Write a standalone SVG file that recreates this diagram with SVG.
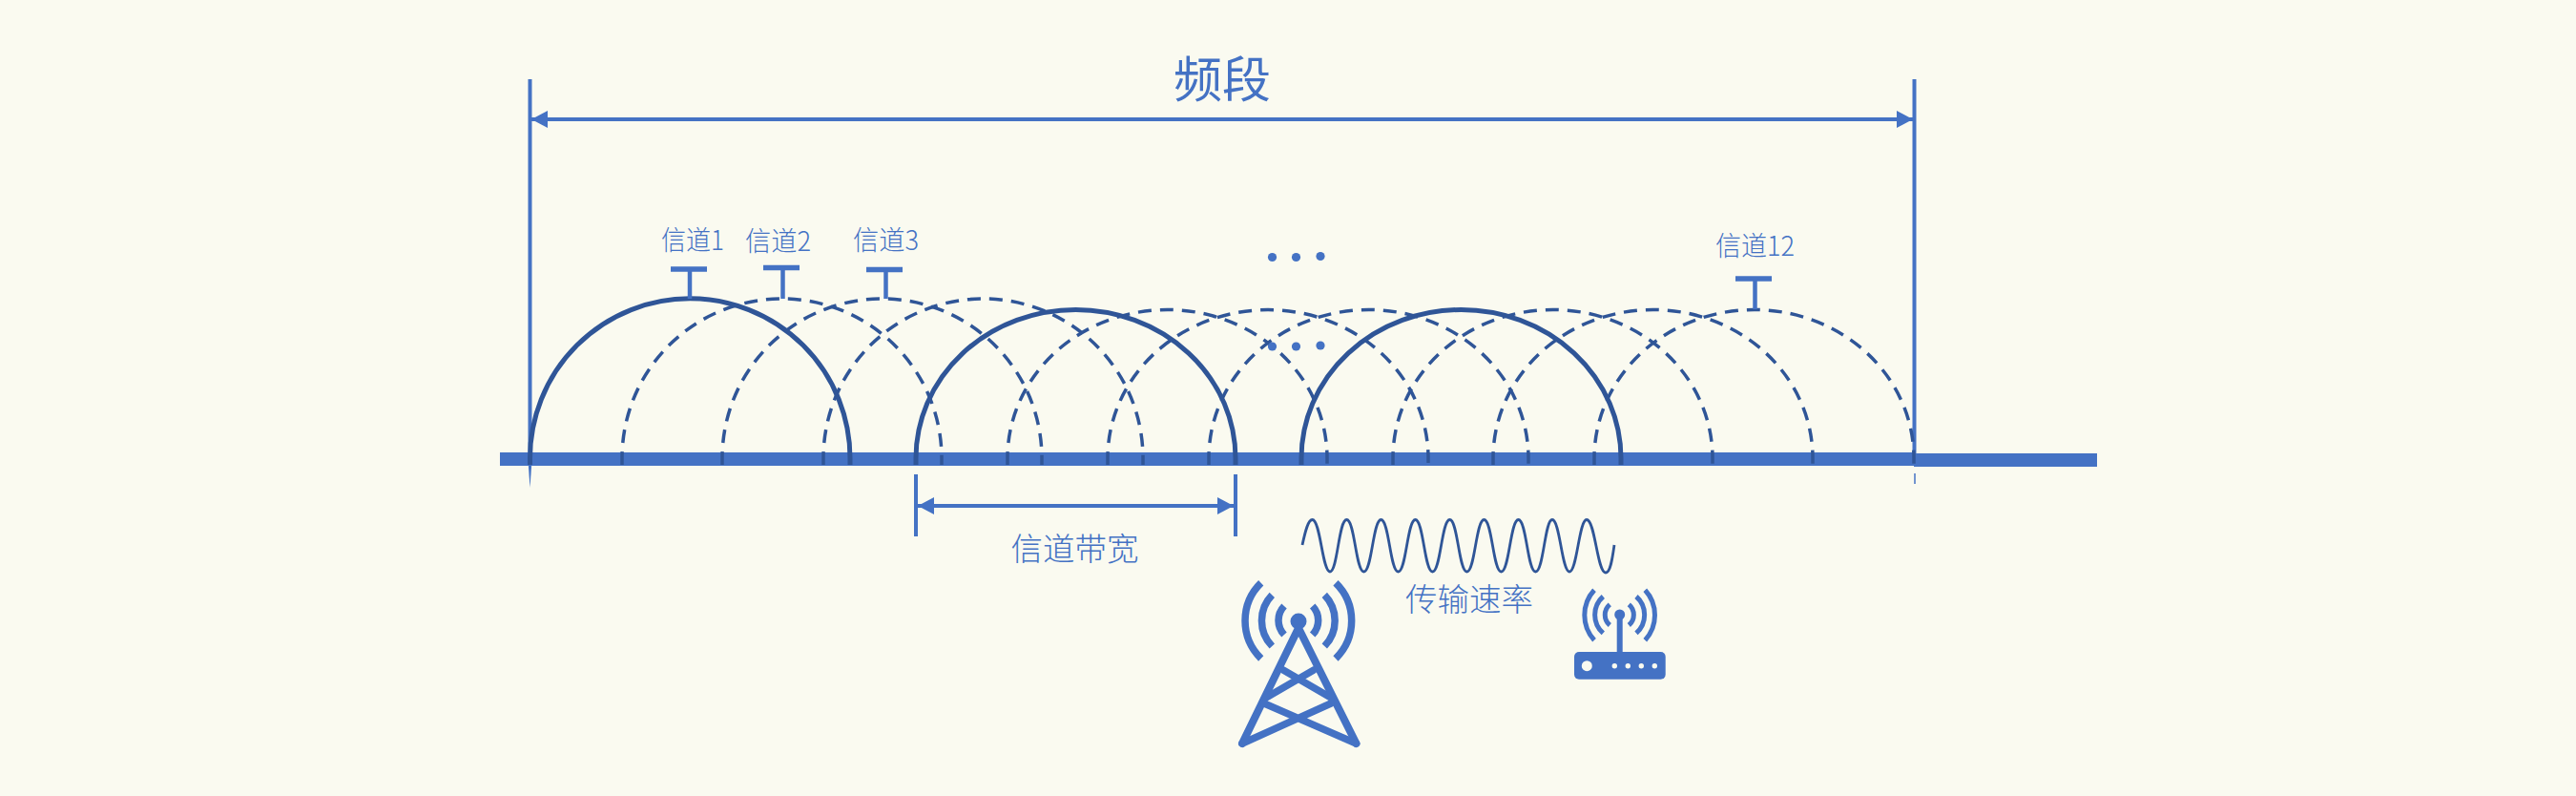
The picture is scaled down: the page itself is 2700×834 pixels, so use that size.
<svg xmlns="http://www.w3.org/2000/svg" width="2700" height="834" viewBox="0 0 2700 834">
<style>
text{font-family:"Noto Sans CJK SC","Noto Sans",sans-serif;font-weight:300;fill:#4472C4}
.v{stroke:#4472C4;stroke-width:4;fill:none}
.t{stroke:#4472C4;fill:none}
.s{stroke:#2F5597;stroke-width:5;fill:none}
.d{stroke:#2F5597;stroke-width:3.500;fill:none;stroke-dasharray:14 9}
.f{fill:#4472C4}
.i{stroke:#4472C4;fill:none}
</style>
<defs>
<marker id="a" markerUnits="userSpaceOnUse" markerWidth="17" markerHeight="18" refX="17" refY="9" orient="auto-start-reverse"><path d="M0 0L17 9L0 18Z" fill="#4472C4"/></marker>
</defs>
<rect width="2700" height="834" fill="#FAFAF0"/>
<g id="band-axis">
<rect x="524" y="474" width="1482" height="14" class="f"/>
<rect x="2006" y="475" width="192" height="14" class="f"/>
</g>
<g id="connectors">
<path class="v" d="M555.500 83V487"/><path class="f" d="M553.800 487H557.200L555.500 511Z"/>
<path class="v" d="M2006.500 83V486"/><path class="v" style="stroke-width:1.500" d="M2007 496V507"/>
<path class="v" d="M557 125H2005" marker-start="url(#a)" marker-end="url(#a)"/>
<path class="v" d="M960 497V562M1295 497V562"/>
<path class="v" d="M962 530H1293" marker-start="url(#a)" marker-end="url(#a)"/>
</g>
<g id="channels-dashed">
<path class="d" d="M652 487V480A167.500 167 0 0 1 987 480V487"/>
<path class="d" d="M757 487V480A167.500 167 0 0 1 1092 480V487"/>
<path class="d" d="M863 487V480A167.500 167 0 0 1 1198 480V487"/>
<path class="d" d="M1056 487V480A167.500 155.500 0 0 1 1391 480V487"/>
<path class="d" d="M1161 487V480A168 155.500 0 0 1 1497 480V487"/>
<path class="d" d="M1267 487V480A167.500 155.500 0 0 1 1602 480V487"/>
<path class="d" d="M1460 487V480A167.500 155.500 0 0 1 1795 480V487"/>
<path class="d" d="M1565 487V480A167.500 155.500 0 0 1 1900 480V487"/>
<path class="d" d="M1671 487V480A167.500 155.500 0 0 1 2006 480V487"/>
</g>
<g id="channels-solid">
<path class="s" d="M555.500 487V480A167.500 167 0 0 1 891 480V487"/>
<path class="s" d="M960 487V480A167.500 155.500 0 0 1 1295 480V487"/>
<path class="s" d="M1364 487V480A167.500 155.500 0 0 1 1699 480V487"/>
</g>
<g id="channel-1"><path class="t" stroke-width="5.500" d="M703 282H741"/><path class="t" stroke-width="4.500" d="M723 282V313"/><text x="693" y="262" font-size="28" textLength="66" lengthAdjust="spacingAndGlyphs">信道1</text></g>
<g id="channel-2"><path class="t" stroke-width="5.500" d="M800 280.500H838"/><path class="t" stroke-width="4.500" d="M820.500 280V313"/><text x="781" y="263" font-size="28" textLength="69" lengthAdjust="spacingAndGlyphs">信道2</text></g>
<g id="channel-3"><path class="t" stroke-width="5.500" d="M908 282.500H946"/><path class="t" stroke-width="4.500" d="M928.500 282V313"/><text x="894" y="262" font-size="28" textLength="69" lengthAdjust="spacingAndGlyphs">信道3</text></g>
<g id="channel-12"><path class="t" stroke-width="5.500" d="M1819 292H1857"/><path class="t" stroke-width="4.500" d="M1839.500 292V324"/><text x="1798" y="268" font-size="28" textLength="83" lengthAdjust="spacingAndGlyphs">信道12</text></g>
<g id="title"><text x="1281" y="102" font-size="51" text-anchor="middle" style="font-weight:400">频段</text></g>
<g id="bandwidth-label"><text x="1126.500" y="587" font-size="33.500" text-anchor="middle">信道带宽</text></g>
<g id="rate-label"><text x="1540" y="640" font-size="33.500" text-anchor="middle">传输速率</text></g>
<g id="dots">
<circle cx="1333.500" cy="269.500" r="4.600" class="f"/><circle cx="1358.500" cy="269.500" r="4.600" class="f"/><circle cx="1384" cy="268.500" r="4.600" class="f"/>
<circle cx="1333.500" cy="363" r="4.600" class="f"/><circle cx="1358.500" cy="363" r="4.600" class="f"/><circle cx="1384" cy="362" r="4.600" class="f"/>
</g>
<g id="wave"><path fill="none" stroke="#2F5597" stroke-width="2.800" d="M1365 571C1368 557 1371 544.500 1375.500 544.500C1384 544.500 1386 599 1394 599C1402 599 1403 544.500 1411.500 544.500C1420 544.500 1421 599 1429.500 599C1438 599 1439 544.500 1447.500 544.500C1456 544.500 1457 599 1465.500 599C1474 599 1475 544.500 1483.500 544.500C1492 544.500 1493 599 1501.500 599C1510 599 1511 544.500 1519.500 544.500C1528 544.500 1529 599 1537.500 599C1546 599 1547 544.500 1555.500 544.500C1564 544.500 1565 599 1573.500 599C1582 599 1583 544.500 1591.500 544.500C1600 544.500 1601 599 1609.500 599C1618 599 1619 544.500 1627 544.500C1635 544.500 1637 599 1645 599C1653 599 1655 544.500 1663 544.500C1672 544.500 1674 600 1683 600C1688 600 1690 585 1692 571"/></g>
<g id="tower">
<circle cx="1361" cy="651" r="8.500" class="f"/>
<path class="i" stroke-width="8" stroke-linejoin="round" stroke-linecap="round" d="M1302 779L1361 658L1421.500 779"/>
<path class="i" stroke-width="7.500" stroke-linecap="round" d="M1302 779L1395 737M1421.500 779L1325 737M1327 731L1377 702M1395 731L1345 702"/>
<path class="i" stroke-width="7.500" d="M1375.700 635A21.750 21.750 0 0 1 1375.700 665M1388.300 623.300A38.600 38.600 0 0 1 1388.300 677M1400 610.700A55.500 55.500 0 0 1 1400 690M1346 635A21.750 21.750 0 0 0 1346 665M1333.300 623.300A38.600 38.600 0 0 0 1333.300 677M1321.700 610.700A55.500 55.500 0 0 0 1321.700 690"/>
</g>
<g id="router">
<rect x="1650" y="683" width="95.700" height="28.700" rx="5" class="f"/>
<path class="i" stroke-width="6" d="M1697.700 644V684"/>
<circle cx="1697.700" cy="644" r="5.500" class="f"/>
<circle cx="1663.300" cy="697.700" r="5.500" fill="#FAFAF0"/>
<circle cx="1692.300" cy="697.700" r="2.700" fill="#FAFAF0"/><circle cx="1706.300" cy="697.700" r="2.700" fill="#FAFAF0"/><circle cx="1720.300" cy="697.700" r="2.700" fill="#FAFAF0"/><circle cx="1734.300" cy="697.700" r="2.700" fill="#FAFAF0"/>
<path class="i" stroke-width="5" d="M1707.300 633.300A14.200 14.200 0 0 1 1707.300 655M1715 625A25.500 25.500 0 0 1 1715 663.300M1724.300 618.300A38.800 38.800 0 0 1 1724.300 670.700M1687.300 633.300A14.200 14.200 0 0 0 1687.300 655M1680.300 625A25.500 25.500 0 0 0 1680.300 663.300M1671 618.300A38.800 38.800 0 0 0 1671 670.700"/>
</g>
</svg>
